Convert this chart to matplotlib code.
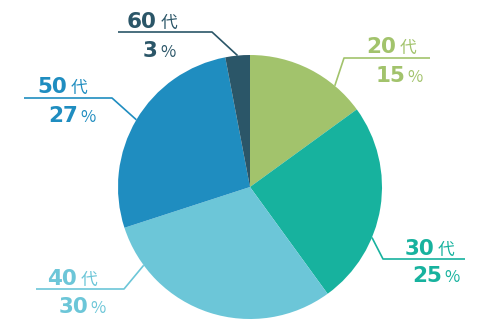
import math
import matplotlib.pyplot as plt

# データ
ages = ['20', '30', '40', '50', '60']
shares = [15, 25, 30, 27, 3]
colors = ['#a2c36c', '#17b29e', '#6cc6d8', '#1f8dc0', '#2b5668']

# レイアウト(ピクセル座標)
center = (250, 187)
radius = 132
anchor_frac = [0.74, 0.65, 0.83, 0.50, 0.50]     # 引き出し線の付け根(扇形内の位置)
elbow = [(344, 58), (383, 259), (124, 289), (112, 98), (212, 32)]
line_end_x = [430, 465, 36, 24, 118]
split1 = [396, 434, 77, 67, 157]
base1 = [53, 255, 285, 93, 28]
split2 = [405, 442, 88, 78, 158]
base2 = [82, 282, 313, 122, 57]

fig = plt.figure(figsize=(5.01, 3.21), dpi=100)
ax = fig.add_axes([0, 0, 1, 1])

# 円グラフ(12時から時計回り)。y軸反転なので counterclock=True で時計回りになる
ax.pie(shares, colors=colors, startangle=-90, counterclock=True,
       center=center, radius=radius, frame=True,
       wedgeprops=dict(linewidth=0))
ax.set_xlim(0, 501)
ax.set_ylim(321, 0)
ax.axis('off')

cjk = 'Noto Sans CJK JP'
total = sum(shares)
start = 0
for i, (age, v, c) in enumerate(zip(ages, shares, colors)):
    a = math.radians((start + v * anchor_frac[i]) / total * 360)
    start += v
    px = center[0] + radius * math.sin(a)
    py = center[1] - radius * math.cos(a)
    ex, ey = elbow[i]
    ax.plot([px, ex, line_end_x[i]], [py, ey, ey], color=c, lw=1.2,
            solid_capstyle='butt', zorder=5)

    ax.text(split1[i], base1[i], age, ha='right', va='baseline', color=c,
            fontsize=15.5, fontweight='bold', family='DejaVu Sans')
    ax.text(split1[i] + 4, base1[i], '代', ha='left', va='baseline', color=c,
            fontsize=12, family=cjk)
    ax.text(split2[i], base2[i], str(v), ha='right', va='baseline', color=c,
            fontsize=15.5, fontweight='bold', family='DejaVu Sans')
    ax.text(split2[i] + 2, base2[i], '%', ha='left', va='baseline', color=c,
            fontsize=12, family=cjk)

fig.savefig('out.png', dpi=100)
